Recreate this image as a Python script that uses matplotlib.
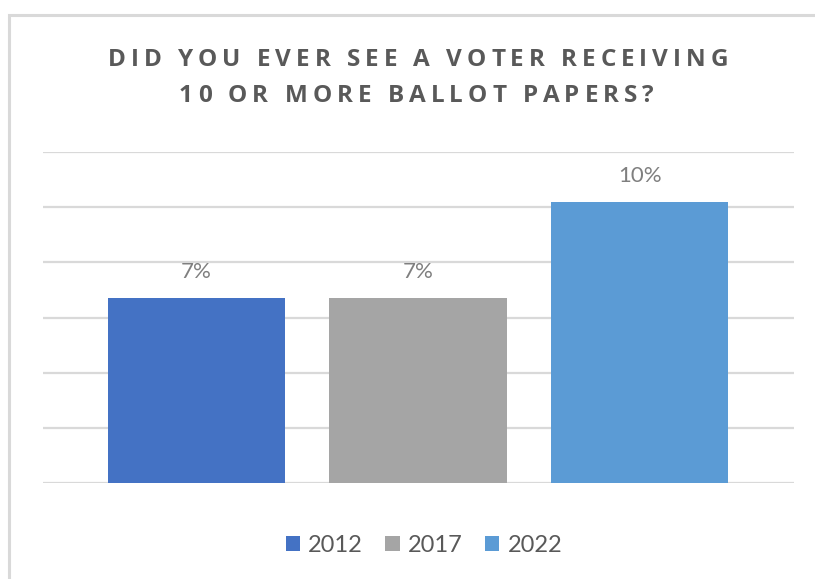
import matplotlib
matplotlib.use("Agg")
import matplotlib.pyplot as plt
from matplotlib.patches import Rectangle, Patch
from matplotlib.font_manager import FontProperties, findfont
from matplotlib import ft2font

# Survey results: share of observers who saw a voter receive 10+ ballot papers
years = ["2012", "2017", "2022"]
shares = [6.7, 6.7, 10.2]
colors = ["#4472C4", "#A5A5A5", "#5B9BD5"]
title_lines = ["DID YOU EVER SEE A VOTER RECEIVING", "10 OR MORE BALLOT PAPERS?"]

plt.rcParams["font.family"] = ["Lato", "DejaVu Sans"]

W, H, DPI = 815, 579, 100
fig = plt.figure(figsize=(W / DPI, H / DPI), dpi=DPI)
fig.patch.set_facecolor("white")

# chart frame (light grey border)
frame = Rectangle((9 / W, -0.05), 1.1, 1 - 15 / H + 0.05, transform=fig.transFigure,
                  fill=False, edgecolor="#D9D9D9", linewidth=2.2, zorder=0)
fig.patches.append(frame)

ax = fig.add_axes([43 / W, 1 - 483.3 / H, 751 / W, (483.3 - 152) / H])
x = range(len(years))
bars = ax.bar(x, shares, width=0.8, color=colors, zorder=3)

ax.set_xlim(-0.693, 2.697)
ax.set_ylim(0, 12)
ax.set_yticks(range(0, 13, 2))
ax.yaxis.grid(True, color="#D9D9D9", linewidth=1.6, zorder=0)
ax.tick_params(left=False, bottom=False, labelleft=False, labelbottom=False)
for s in ax.spines.values():
    s.set_visible(False)

for b, v in zip(bars, shares):
    ax.annotate(f"{v:.0f}%", (b.get_x() + b.get_width() / 2, v),
                xytext=(0, 18.7), textcoords="offset points",
                ha="center", va="center", fontsize=16, color="#7F7F7F")


def tracked_text(text, left, right, cy, size, **kw):
    """Draw a line of bold text spread between two x positions (pixels)."""
    fp = FontProperties(family="Open Sans", weight="bold", size=size)
    font = ft2font.FT2Font(findfont(fp))
    font.set_size(size, DPI)
    advances = [font.load_char(ord(c)).linearHoriAdvance / 65536 for c in text]
    tracking = (right - left - sum(advances)) / (len(text) - 1)
    pos = left
    for c, adv in zip(text, advances):
        if c != " ":
            fig.text(pos / W, 1 - cy / H, c, ha="left", va="center",
                     fontproperties=fp, **kw)
        pos += adv + tracking


tracked_text(title_lines[0], 108, 728, 59.5, 17.5, color="#595959")
tracked_text(title_lines[1], 179, 654, 95.5, 17.5, color="#595959")

handles = [Patch(facecolor=c, edgecolor="none") for c in colors]
fig.legend(handles, years, loc="center", bbox_to_anchor=(424 / W, 1 - 545 / H),
           ncol=3, frameon=False, fontsize=17, labelcolor="#595959",
           handlelength=0.6, handleheight=0.6, handletextpad=0.35, columnspacing=0.95)

fig.savefig("out.png", dpi=DPI, facecolor="white")
